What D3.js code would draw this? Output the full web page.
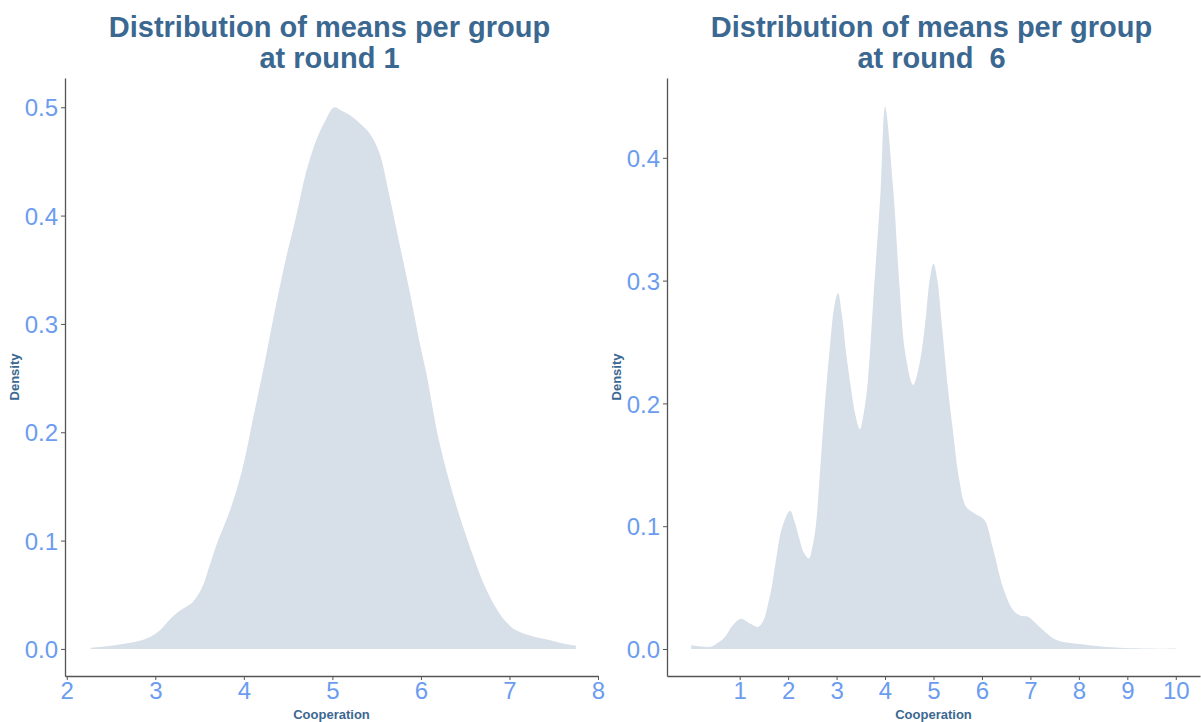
<!DOCTYPE html>
<html lang="en">
<head>
<meta charset="utf-8">
<title>Distribution of means per group</title>
<script src="https://cdnjs.cloudflare.com/ajax/libs/d3/7.8.5/d3.min.js"></script>
<style>
  body { margin: 0; background: #fff; }
  svg { font-family: "Liberation Sans", Arial, sans-serif; }
  .title { font-size: 29px; font-weight: bold; fill: #3b6891; white-space: pre; }
  .axlab { font-size: 13px; font-weight: bold; fill: #3b6891; }
  .tick text { font-size: 24px; fill: #6b9cef; }
  .tick line, .domain { stroke: #555; }
</style>
</head>
<body>
<svg id="chart" width="1201" height="722"></svg>
<script>
// round 1 density (Cooperation, density)
var round1X = [2.27, 2.4, 2.6, 2.8, 2.94, 3.05, 3.15, 3.24, 3.33, 3.42, 3.53, 3.61, 3.69, 3.84, 3.98,
  4.10, 4.23, 4.36, 4.48, 4.59, 4.70, 4.82, 4.91, 5.02, 5.10, 5.19, 5.30, 5.42, 5.53, 5.64, 5.75,
  5.87, 5.98, 6.06, 6.21, 6.39, 6.58, 6.71, 6.84, 6.95, 7.07, 7.25, 7.45, 7.60, 7.75];
var round1Y = [0.001, 0.002, 0.004, 0.007, 0.011, 0.017, 0.026, 0.033, 0.038, 0.043, 0.057, 0.076, 0.096, 0.127, 0.165,
  0.211, 0.262, 0.316, 0.362, 0.399, 0.439, 0.470, 0.486, 0.500, 0.497, 0.493, 0.486, 0.476, 0.458, 0.420, 0.377,
  0.331, 0.285, 0.255, 0.190, 0.135, 0.088, 0.060, 0.039, 0.026, 0.0175, 0.012, 0.0083, 0.005, 0.003];

// round 6 density
var round6X = [0.0, 0.2, 0.42, 0.55, 0.70, 0.85, 1.03, 1.2, 1.38, 1.50, 1.57, 1.66, 1.74, 1.88, 2.04,
  2.13, 2.22, 2.33, 2.43, 2.50, 2.57, 2.67, 2.77, 2.86, 2.95, 3.03, 3.11, 3.20, 3.29, 3.38, 3.48,
  3.56, 3.64, 3.77, 3.91, 4.00, 4.17, 4.29, 4.42, 4.58, 4.70, 4.82, 4.92, 5.00, 5.08, 5.17, 5.29, 5.40, 5.53,
  5.67, 5.84, 6.05, 6.22, 6.43, 6.64, 6.80, 6.95, 7.19, 7.54, 8.02, 8.50, 9.19, 9.6, 10.0];
var round6Y = [0.003, 0.002, 0.002, 0.005, 0.010, 0.019, 0.0247, 0.021, 0.018, 0.024, 0.034, 0.050, 0.070, 0.0996, 0.1126,
  0.104, 0.0915, 0.078, 0.0738, 0.083, 0.0996, 0.151, 0.205, 0.245, 0.278, 0.290, 0.272, 0.240, 0.214, 0.192, 0.179,
  0.192, 0.216, 0.292, 0.374, 0.4416, 0.374, 0.300, 0.240, 0.215, 0.230, 0.262, 0.300, 0.314, 0.300, 0.265, 0.215, 0.178, 0.138,
  0.116, 0.1105, 0.105, 0.083, 0.0507, 0.0318, 0.027, 0.0263, 0.018, 0.0073, 0.004, 0.0019, 0.0005, 0.0002, 0.0004];

var round1Ticks = [2, 3, 4, 5, 6, 7, 8];
var round6Ticks = [1, 2, 3, 4, 5, 6, 7, 8, 9, 10];
var round1YTicks = [0, 0.1, 0.2, 0.3, 0.4, 0.5];
var round6YTicks = [0, 0.1, 0.2, 0.3, 0.4];

var svg = d3.select("#chart");

function drawPanel(opt) {
  var x = d3.scaleLinear().domain(opt.xDomain).range([opt.left, opt.right]);
  var y = d3.scaleLinear().domain(opt.yDomain).range([676, 78]);
  var pts = opt.xs.map(function(v, i) { return [v, opt.ys[i]]; });

  var area = d3.area()
    .x(function(d) { return x(d[0]); })
    .y0(y(0))
    .y1(function(d) { return y(d[1]); })
    .curve(d3.curveCatmullRom.alpha(0.5));

  svg.append("path")
    .datum(pts)
    .attr("d", area)
    .attr("fill", "#d7dfe8");

  svg.append("g")
    .attr("transform", "translate(0,676)")
    .call(d3.axisBottom(x).tickValues(opt.xTicks).tickFormat(d3.format("d")).tickSize(4).tickSizeOuter(0).tickPadding(2))
    .call(function(g) { g.select(".domain").attr("stroke-width", 1.3); });

  svg.append("g")
    .attr("transform", "translate(" + opt.left + ",0)")
    .call(d3.axisLeft(y).tickValues(opt.yTicks).tickFormat(d3.format(".1f")).tickSize(4).tickSizeOuter(0).tickPadding(3))
    .call(function(g) {
      g.select(".domain").attr("stroke-width", 1.3);
      g.selectAll(".tick text").attr("dy", "0.36em");
    });

  var cx = (opt.left + opt.right) / 2 - 2;
  var t = svg.append("text").attr("class", "title").attr("text-anchor", "middle");
  t.append("tspan").attr("x", cx).attr("y", 37).text("Distribution of means per group");
  t.append("tspan").attr("x", cx).attr("y", 68).text(opt.subtitle);

  svg.append("text").attr("class", "axlab")
    .attr("text-anchor", "middle")
    .attr("x", (opt.left + opt.right) / 2)
    .attr("y", 719)
    .text("Cooperation");

  svg.append("text").attr("class", "axlab")
    .attr("text-anchor", "middle")
    .attr("transform", "translate(" + (opt.left - 46) + "," + 377 + ") rotate(-90)")
    .text("Density");
}

drawPanel({
  xs: round1X, ys: round1Y, xTicks: round1Ticks, yTicks: round1YTicks,
  xDomain: [1.98, 8.0], yDomain: [-0.025, 0.527],
  left: 65, right: 598, subtitle: "at round 1"
});

drawPanel({
  xs: round6X, ys: round6Y, xTicks: round6Ticks, yTicks: round6YTicks,
  xDomain: [-0.5, 10.5], yDomain: [-0.022, 0.465],
  left: 667, right: 1200, subtitle: "at round  6"
});
</script>
</body>
</html>
